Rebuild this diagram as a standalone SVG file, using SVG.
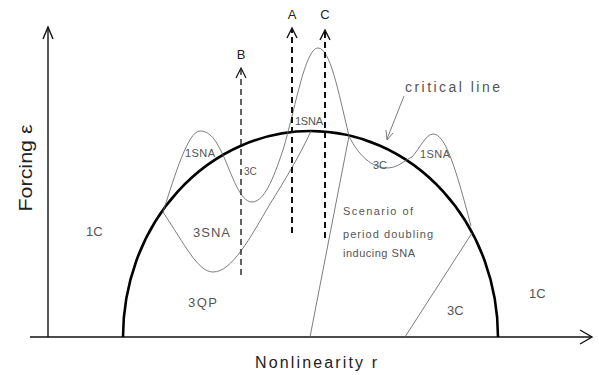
<svg xmlns="http://www.w3.org/2000/svg" width="599" height="375" viewBox="0 0 599 375">
<style>
.axis{stroke:#111;stroke-width:1.4;fill:none}
.thin{stroke:#666;stroke-width:0.85;fill:none}
.crit{stroke:#000;stroke-width:2.6;fill:none}
.dashB{stroke:#222;stroke-width:1.4;stroke-dasharray:6 4;fill:none}
.dashAC{stroke:#111;stroke-width:2;stroke-dasharray:6 4;fill:none}
.head{stroke:#111;stroke-width:1.4;fill:none}
text{font-family:"Liberation Sans",Arial,sans-serif;fill:#555}
.lbl{font-size:13px}
.sm{font-size:11px}
.big{font-size:16px;fill:#222}
.let{font-size:13px;fill:#222}
</style>
<rect width="599" height="375" fill="#fff"/>
<g id="axes">
<line class="axis" x1="48" y1="27" x2="48" y2="337"/>
<polyline class="head" points="43,39 48,27 53,39"/>
<line class="axis" x1="30" y1="337" x2="591" y2="337" style="stroke-width:1.6"/>
<polyline class="head" points="580,330 592,337 580,344"/>
<text class="big" transform="translate(32,168) rotate(-90)" text-anchor="middle" textLength="87" lengthAdjust="spacingAndGlyphs" style="font-size:19px">Forcing ε</text>
<text class="big" x="255" y="368" textLength="122" lengthAdjust="spacing">Nonlinearity r</text>
</g>
<g id="curves">
<path class="crit" d="M123,337 A187.5,206 0 0 1 498,337"/>
<path class="thin" d="M163,212 C175,175 188,131 200,131 C212,131 218,145 223,155 C232,175 240,202 252,202 C266,202 276,170 283,150 C295,110 305,48 318,48 C330,48 338,90 349,136 C358,155 372,168 387,168 C398,168 405,160 412,157 C420,148 426,134 433,134 C445,134 455,165 471,226"/>
<path class="thin" d="M163,212 C185,245 198,272 213,272 C232,272 250,238 270,204 C285,180 300,155 311,131"/>
<line class="thin" x1="349" y1="136" x2="310" y2="337"/>
<line class="thin" x1="472" y1="233" x2="405" y2="337"/>
</g>
<g id="connectors">
<line class="dashB" x1="241" y1="275" x2="241" y2="70"/>
<polyline class="head" points="236,78 241,68 246,78" style="stroke-width:1.2"/>
<line class="dashAC" x1="292" y1="233" x2="292" y2="30"/>
<polyline class="head" points="287,38 292,28 297,38"/>
<line class="dashAC" x1="325" y1="238" x2="325" y2="32"/>
<polyline class="head" points="320,40 325,30 330,40"/>
<line class="thin" x1="404" y1="96" x2="387" y2="139"/>
<polyline class="thin" points="386,130 387,140 393,133"/>
</g>
<g id="labels">
<text class="let" x="241" y="59" text-anchor="middle">B</text>
<text class="let" x="292" y="19" text-anchor="middle">A</text>
<text class="let" x="325" y="19" text-anchor="middle">C</text>
<text x="405" y="92" style="font-size:14px" textLength="95" lengthAdjust="spacing">critical line</text>
<text class="lbl" x="86" y="236">1C</text>
<text class="lbl" x="193" y="237" textLength="37" lengthAdjust="spacing">3SNA</text>
<text class="lbl" x="188" y="307" textLength="29" lengthAdjust="spacing">3QP</text>
<text class="sm" x="185" y="157" textLength="30" lengthAdjust="spacing">1SNA</text>
<text class="sm" x="295" y="125" textLength="28" lengthAdjust="spacing">1SNA</text>
<text class="sm" x="420" y="158" textLength="30" lengthAdjust="spacing">1SNA</text>
<text class="sm" x="373" y="169">3C</text>
<text x="244" y="175" style="font-size:10px">3C</text>
<text class="lbl" x="447" y="315">3C</text>
<text class="lbl" x="529" y="298">1C</text>
<text class="sm" x="343" y="215" textLength="70" lengthAdjust="spacing">Scenario of</text>
<text class="sm" x="343" y="238" textLength="90" lengthAdjust="spacing">period doubling</text>
<text class="sm" x="343" y="257" textLength="72" lengthAdjust="spacing">inducing SNA</text>
</g>
</svg>
